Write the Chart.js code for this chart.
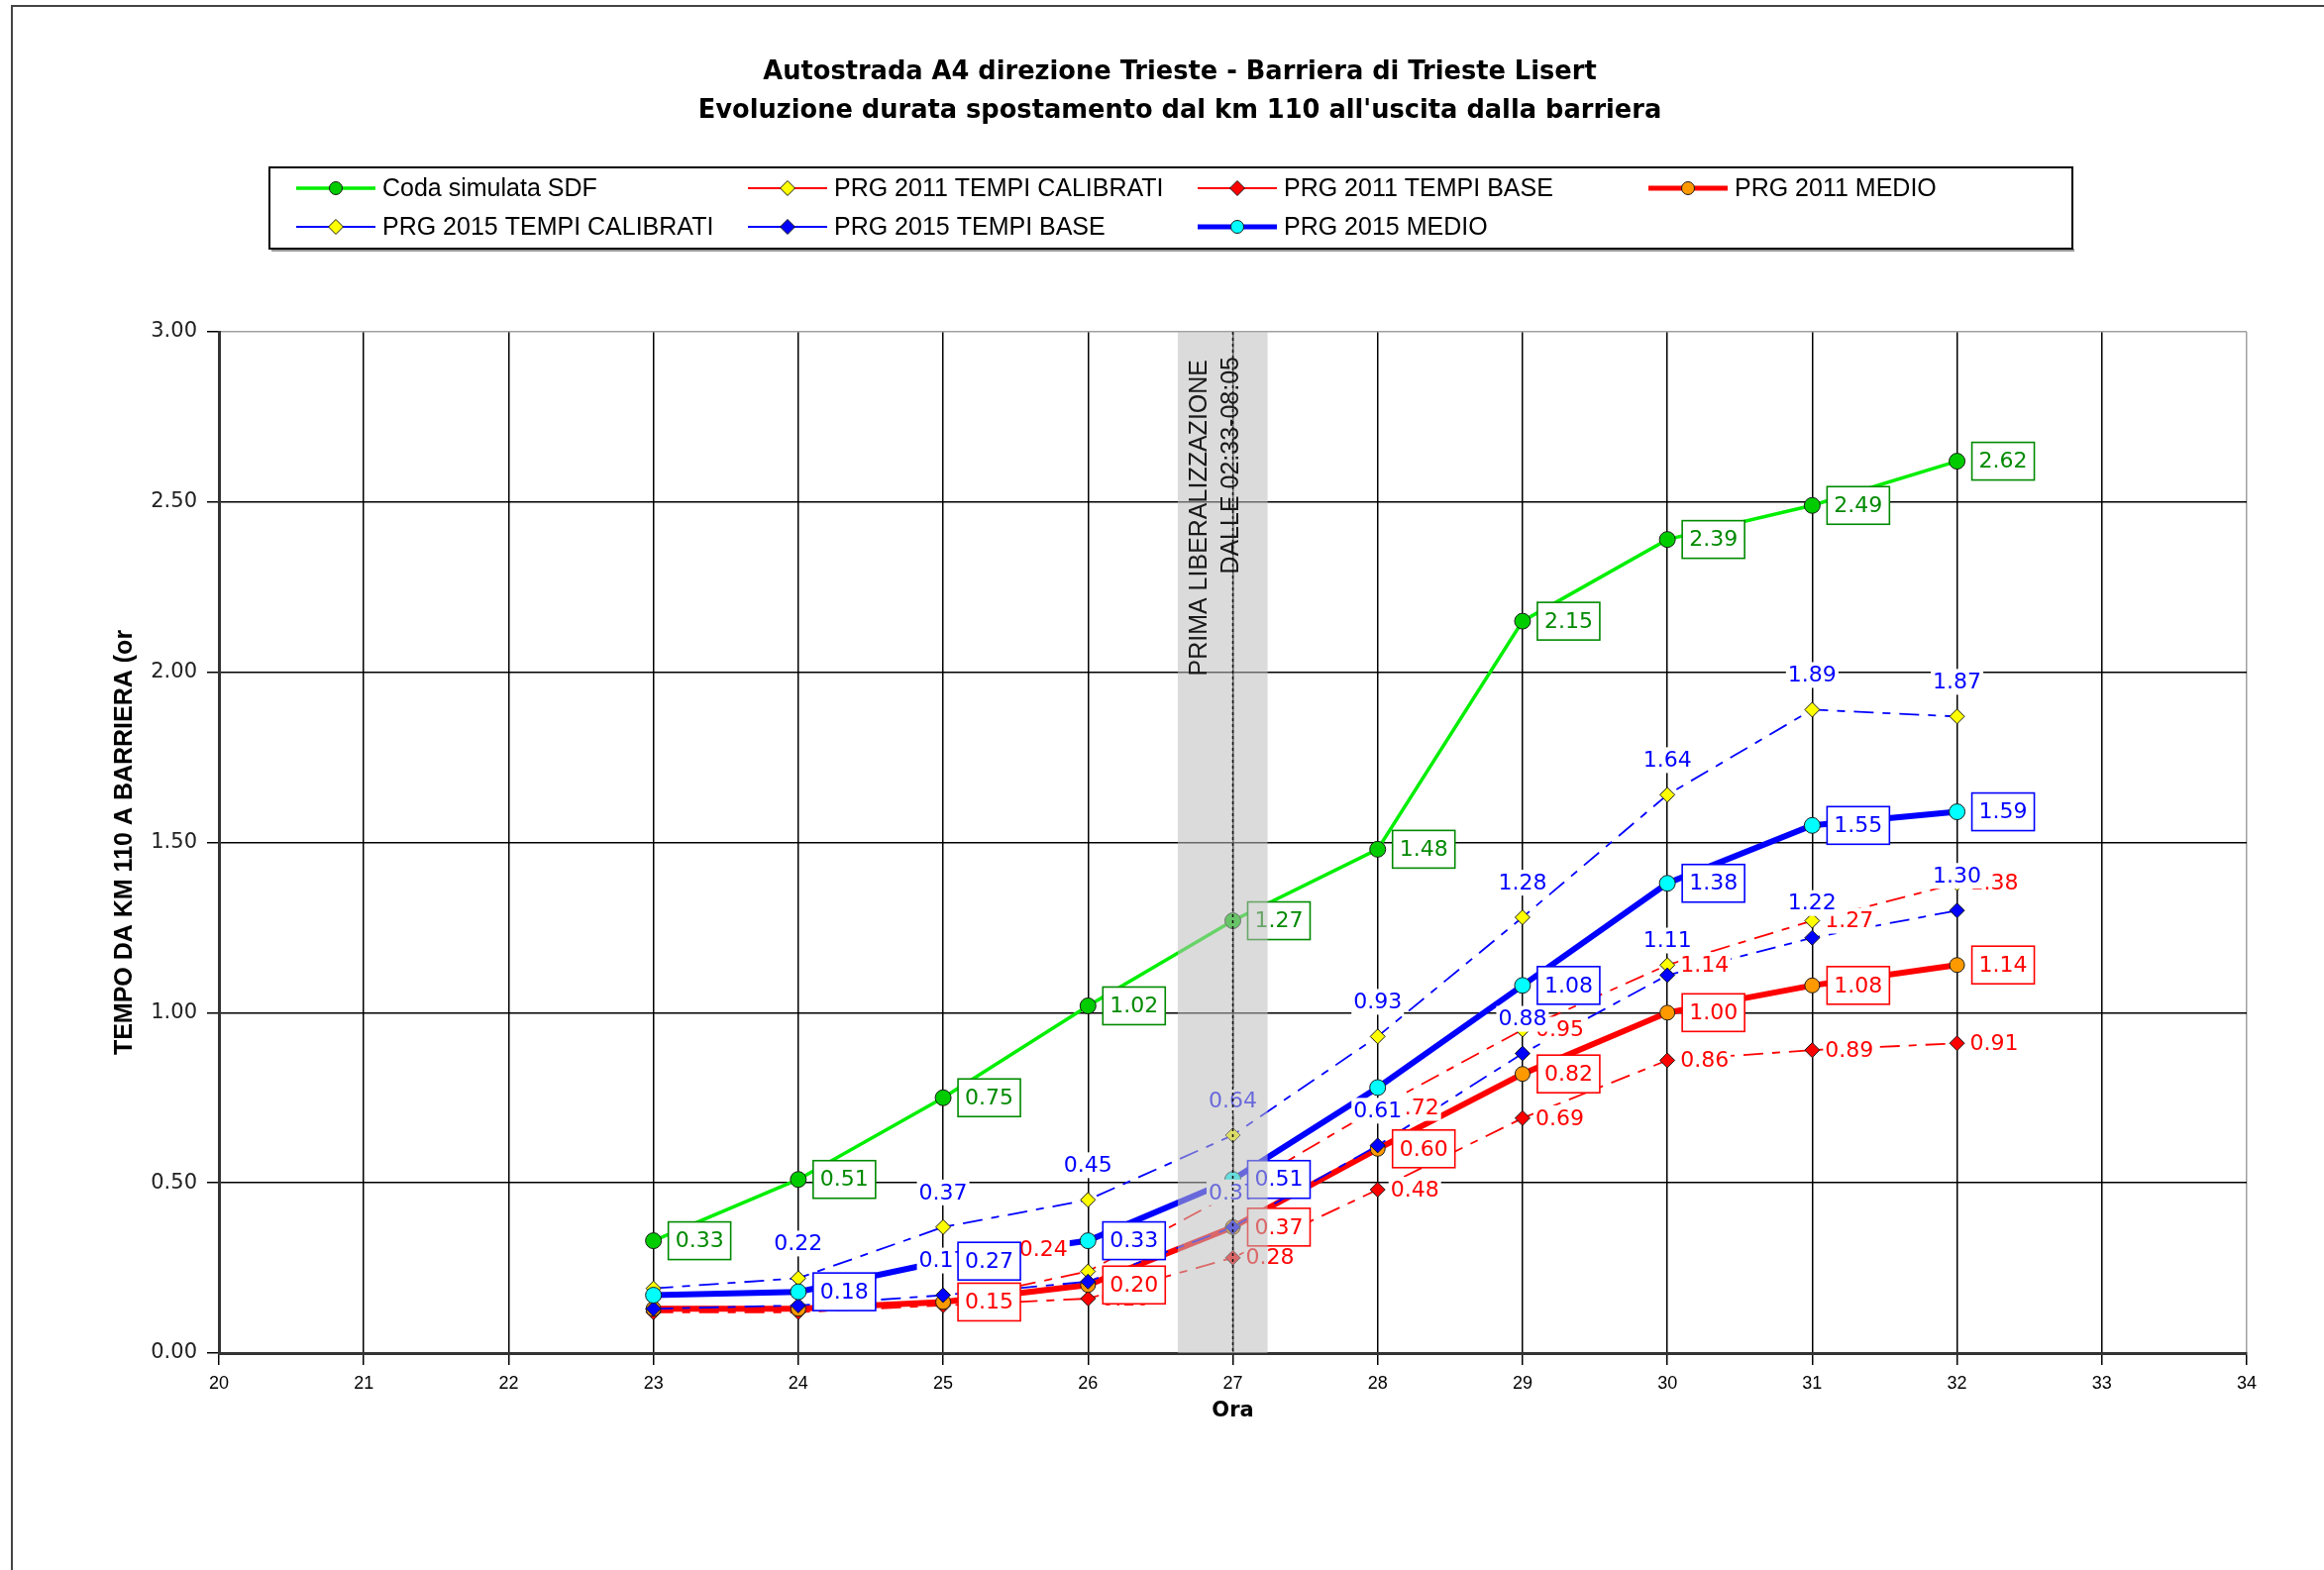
<!DOCTYPE html>
<html><head><meta charset="utf-8">
<script src="https://cdn.jsdelivr.net/npm/chart.js@4.4.1/dist/chart.umd.min.js"></script>
<style>html,body{margin:0;padding:0;background:#fff;}canvas{display:block;}</style>
</head><body>
<canvas id="c" width="2346" height="1585"></canvas>
<script>
// ---------- DATA ----------
const hours = [23, 24, 25, 26, 27, 28, 29, 30, 31, 32];
const codaSDF      = [0.33, 0.51, 0.75, 1.02, 1.27, 1.48, 2.15, 2.39, 2.49, 2.62];
const prg2011Cal   = [0.13, 0.13, 0.15, 0.24, 0.47, 0.72, 0.95, 1.14, 1.27, 1.38];
const prg2011Base  = [0.12, 0.12, 0.14, 0.16, 0.28, 0.48, 0.69, 0.86, 0.89, 0.91];
const prg2011Medio = [0.13, 0.13, 0.15, 0.20, 0.37, 0.60, 0.82, 1.00, 1.08, 1.14];
const prg2015Cal   = [0.19, 0.22, 0.37, 0.45, 0.64, 0.93, 1.28, 1.64, 1.89, 1.87];
const prg2015Base  = [0.13, 0.14, 0.17, 0.21, 0.37, 0.61, 0.88, 1.11, 1.22, 1.30];
const prg2015Medio = [0.17, 0.18, 0.27, 0.33, 0.51, 0.78, 1.08, 1.38, 1.55, 1.59];
const seriesNames = ['Coda simulata SDF', 'PRG 2011 TEMPI CALIBRATI', 'PRG 2011 TEMPI BASE', 'PRG 2011 MEDIO',
                     'PRG 2015 TEMPI CALIBRATI', 'PRG 2015 TEMPI BASE', 'PRG 2015 MEDIO'];
const titleLines = ['Autostrada A4 direzione Trieste - Barriera di Trieste Lisert',
                    "Evoluzione durata spostamento dal km 110 all'uscita dalla barriera"];
const xTitle = 'Ora';
const yTitle = 'TEMPO DA KM 110 A BARRIERA (or';
const xMin = 20, xMax = 34, xStep = 1;
const yMin = 0, yMax = 3, yStep = 0.5;
const bandStart = 26.62, bandEnd = 27.24, bandMark = 27;
const bandText = ['PRIMA LIBERALIZZAZIONE', 'DALLE 02:33-08:05'];

// ---------- STYLES ----------
const F = '"DejaVu Sans", "Liberation Sans", Arial, sans-serif';
const A = '"Liberation Sans", Arial, sans-serif';
const RED = '#ff0000', BLUE = '#0000ff', GREEN_LBL = '#008a00';
const DASH = [20, 9, 8, 9];
const pts = arr => hours.map((h, i) => ({x: h, y: arr[i]}));

const datasets = [
  {label: seriesNames[0], data: pts(codaSDF), borderColor: '#00ee00', borderWidth: 3.5,
   pointStyle: 'circle', pointRadius: 8, pointBackgroundColor: '#00cc00',
   labelMode: 'box', labelColor: GREEN_LBL, hide: []},
  {label: seriesNames[1], data: pts(prg2011Cal), borderColor: RED, borderWidth: 1.8, borderDash: DASH,
   pointStyle: 'rectRot', pointRadius: 7.5, pointBackgroundColor: '#ffff00',
   labelMode: 'right', labelColor: RED, hide: [0, 1, 2, 4], over: {3: 'aboveleft'}},
  {label: seriesNames[2], data: pts(prg2011Base), borderColor: RED, borderWidth: 1.8, borderDash: DASH,
   pointStyle: 'rectRot', pointRadius: 7.5, pointBackgroundColor: '#ff0000',
   labelMode: 'right', labelColor: RED, hide: [0, 1, 2]},
  {label: seriesNames[3], data: pts(prg2011Medio), borderColor: RED, borderWidth: 6,
   pointStyle: 'circle', pointRadius: 7.5, pointBackgroundColor: '#ff9900',
   labelMode: 'box', labelColor: RED, hide: [0, 1]},
  {label: seriesNames[4], data: pts(prg2015Cal), borderColor: BLUE, borderWidth: 1.8, borderDash: DASH,
   pointStyle: 'rectRot', pointRadius: 7.5, pointBackgroundColor: '#ffff00',
   labelMode: 'above', labelColor: BLUE, hide: [0]},
  {label: seriesNames[5], data: pts(prg2015Base), borderColor: BLUE, borderWidth: 1.8, borderDash: DASH,
   pointStyle: 'rectRot', pointRadius: 7.5, pointBackgroundColor: '#0000ff',
   labelMode: 'above', labelColor: BLUE, hide: [0, 1, 3]},
  {label: seriesNames[6], data: pts(prg2015Medio), borderColor: BLUE, borderWidth: 6,
   pointStyle: 'circle', pointRadius: 8, pointBackgroundColor: '#00ffff',
   labelMode: 'box', labelColor: BLUE, hide: [0, 5]},
];
datasets.forEach((d, i) => {
  d.order = datasets.length - i;
  d.tension = 0; d.fill = false;
  d.pointBorderColor = '#1a1a1a'; d.pointBorderWidth = 1;
  d.pointHoverRadius = d.pointRadius;
});

function drawLabel(ctx, mode, color, text, px, py) {
  ctx.save();
  ctx.font = '22px ' + F;
  const w = ctx.measureText(text).width;
  const h = 22;
  if (mode === 'box') {
    const bx = px + 15, bw = w + 14, bh = 38, by = py - bh / 2;
    ctx.fillStyle = '#fff'; ctx.fillRect(bx, by, bw, bh);
    ctx.strokeStyle = color; ctx.lineWidth = 1.6; ctx.strokeRect(bx, by, bw, bh);
    ctx.fillStyle = color; ctx.textAlign = 'left'; ctx.textBaseline = 'middle';
    ctx.fillText(text, bx + 7, py + 1);
  } else {
    let tx, ty;
    if (mode === 'right') { tx = px + 13 + w / 2; ty = py; }
    else if (mode === 'above') { tx = px; ty = py - 35; }
    else { tx = px - 45; ty = py - 22; }
    ctx.fillStyle = '#fff'; ctx.fillRect(tx - w / 2 - 2, ty - h / 2 - 2, w + 4, h + 4);
    ctx.fillStyle = color; ctx.textAlign = 'center'; ctx.textBaseline = 'middle';
    ctx.fillText(text, tx, ty + 1);
  }
  ctx.restore();
}

const overlayPlugin = {
  id: 'overlay',
  afterDatasetsDraw(chart) {
    const ctx = chart.ctx, ca = chart.chartArea;
    const xs = chart.scales.x;
    // data labels
    chart.data.datasets.forEach((ds, i) => {
      const meta = chart.getDatasetMeta(i);
      meta.data.forEach((el, j) => {
        if (ds.hide.includes(j)) return;
        const mode = (ds.over && ds.over[j]) || ds.labelMode;
        drawLabel(ctx, mode, ds.labelColor, ds.data[j].y.toFixed(2), el.x, el.y);
      });
    });
    // shaded band
    const x0 = xs.getPixelForValue(bandStart), x1 = xs.getPixelForValue(bandEnd);
    const xm = xs.getPixelForValue(bandMark);
    ctx.save();
    ctx.fillStyle = 'rgba(190,190,190,0.55)';
    ctx.fillRect(x0, ca.top, x1 - x0, ca.bottom - ca.top);
    ctx.strokeStyle = '#111'; ctx.lineWidth = 1.5; ctx.setLineDash([3, 3]);
    ctx.beginPath(); ctx.moveTo(xm, ca.top); ctx.lineTo(xm, ca.bottom); ctx.stroke();
    ctx.setLineDash([]);
    ctx.fillStyle = '#1a1a1a'; ctx.font = '25px ' + A;
    ctx.textAlign = 'right'; ctx.textBaseline = 'middle';
    ctx.translate(xm - 33, ca.top + 28); ctx.rotate(-Math.PI / 2);
    ctx.fillText(bandText[0], 0, 0);
    ctx.fillText(bandText[1], 3, 32);
    ctx.restore();
  },
  afterDraw(chart) {
    const ctx = chart.ctx;
    ctx.save();
    // outer frame
    ctx.strokeStyle = '#444'; ctx.lineWidth = 2;
    ctx.beginPath(); ctx.moveTo(12, 1585); ctx.lineTo(12, 6); ctx.lineTo(2346, 6); ctx.stroke();
    // title
    ctx.fillStyle = '#000'; ctx.font = 'bold 25.7px ' + F;
    ctx.textAlign = 'center'; ctx.textBaseline = 'middle';
    ctx.fillText(titleLines[0], 1191, 73);
    ctx.fillText(titleLines[1], 1191, 112);
    // legend box
    ctx.fillStyle = '#9a9a9a'; ctx.fillRect(274, 251, 1820, 3);
    ctx.fillStyle = '#fff'; ctx.fillRect(272, 169, 1820, 82);
    ctx.strokeStyle = '#000'; ctx.lineWidth = 2; ctx.strokeRect(272, 169, 1820, 82);
    const cols = [299, 755, 1209, 1664], rows = [190, 229];
    chart.data.datasets.forEach((ds, i) => {
      const r = i < 4 ? 0 : 1, c = i < 4 ? i : i - 4;
      const lx = cols[c], ly = rows[r];
      ctx.save();
      ctx.strokeStyle = ds.borderColor; ctx.lineWidth = Math.min(ds.borderWidth, 5);
      ctx.beginPath(); ctx.moveTo(lx, ly); ctx.lineTo(lx + 80, ly); ctx.stroke();
      ctx.restore();
      ctx.save();
      ctx.fillStyle = ds.pointBackgroundColor; ctx.strokeStyle = '#1a1a1a'; ctx.lineWidth = 1;
      Chart.helpers.drawPoint(ctx, {pointStyle: ds.pointStyle, radius: ds.pointStyle === 'rectRot' ? 7.5 : 6.5, rotation: 0, borderWidth: 1}, lx + 40, ly);
      ctx.restore();
      ctx.fillStyle = '#000'; ctx.font = '25px ' + A;
      ctx.textAlign = 'left'; ctx.textBaseline = 'middle';
      ctx.fillText(ds.label, lx + 87, ly + 1);
    });
    ctx.restore();
  }
};

new Chart(document.getElementById('c'), {
  type: 'line',
  data: {datasets},
  options: {
    responsive: false, animation: false, devicePixelRatio: 1,
    layout: {padding: {left: 110, right: 78, top: 335, bottom: 147}},
    plugins: {legend: {display: false}, title: {display: false}, tooltip: {enabled: false}},
    events: [],
    scales: {
      x: {
        type: 'linear', min: xMin, max: xMax,
        afterFit: s => { s.height = 72; },
        ticks: {stepSize: xStep, color: '#000', font: {family: A, size: 18}, padding: 8, maxRotation: 0,
                callback: v => String(v)},
        grid: {color: c => c.tick && c.tick.value === xMax ? '#a0a0a0' : '#000', lineWidth: 1.5,
               tickLength: 12, tickColor: '#000', tickWidth: 1.5},
        border: {color: '#333', width: 3},
        title: {display: true, text: xTitle, color: '#000', font: {family: F, size: 21, weight: 'bold'},
                padding: {top: 0, bottom: 1}}
      },
      y: {
        type: 'linear', min: yMin, max: yMax,
        afterFit: s => { s.width = 111; },
        ticks: {stepSize: yStep, color: '#222', font: {family: F, size: 21}, padding: 10,
                callback: v => Number(v).toFixed(2)},
        grid: {color: c => c.tick && c.tick.value === yMax ? '#a0a0a0' : '#000', lineWidth: 1.5,
               tickLength: 12, tickColor: '#000', tickWidth: 1.5},
        border: {color: '#333', width: 3},
        title: {display: true, text: yTitle, color: '#000',
                font: {family: A, size: 25, weight: 'bold'},
                padding: {top: 1, bottom: 0}}
      }
    }
  },
  plugins: [overlayPlugin]
});
</script>
</body></html>
